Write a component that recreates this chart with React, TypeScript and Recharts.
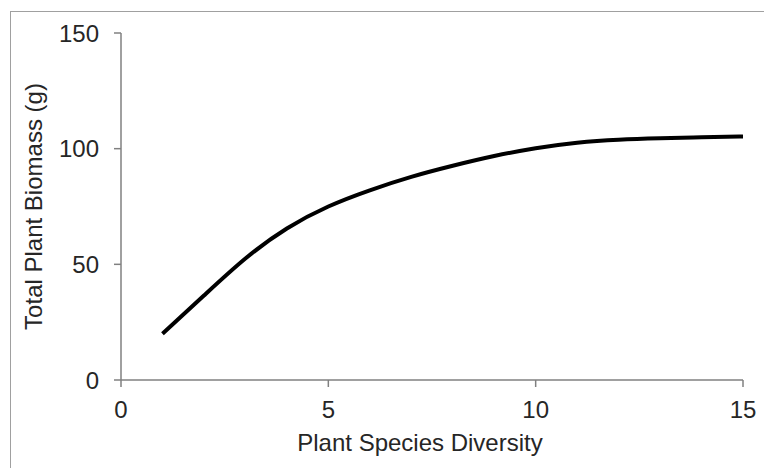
import { LineChart, Line, XAxis, YAxis, Label } from 'recharts';

const diversity = [1, 2, 3, 4, 5, 6, 7, 8, 9, 10, 11, 12, 13, 14, 15];
const biomass = [20, 36.5, 52.5, 65.5, 75, 82, 87.8, 92.6, 96.8, 100.2, 102.6, 103.9, 104.5, 104.9, 105.3];
const xTicks = [0, 5, 10, 15];
const yTicks = [0, 50, 100, 150];

const data = diversity.map((d, i) => ({ diversity: d, biomass: biomass[i] }));

const axisColor = '#808080';
const textColor = '#262626';
const font = '"Liberation Sans", Arial, sans-serif';
const txt = { fontSize: 24, fill: textColor, fontFamily: font };

export default function App() {
  return (
    <div style={{ position: 'fixed', left: 0, top: 0, width: 764, height: 468, background: '#fff', fontFamily: font }}>
      <div style={{ position: 'absolute', left: 10, top: 11, right: 0, bottom: 0, borderLeft: '1px solid #a0a0a0', borderTop: '1px solid #a0a0a0' }} />
      <LineChart width={764} height={468} data={data} margin={{ top: 33, right: 21, left: 61, bottom: 28 }} style={{ fontSize: 24 }}>
        <XAxis
          dataKey="diversity"
          type="number"
          domain={[0, 15]}
          ticks={xTicks}
          height={60}
          stroke={axisColor}
          strokeWidth={1.5}
          tickSize={7}
          tickMargin={14}
          fontSize={24}
          tick={txt}
        >
          <Label value="Plant Species Diversity" position="center" dx={-12} dy={32} style={txt} />
        </XAxis>
        <YAxis
          type="number"
          domain={[0, 150]}
          ticks={yTicks}
          width={60}
          stroke={axisColor}
          strokeWidth={1.5}
          tickSize={7}
          tickMargin={15}
          fontSize={24}
          tick={txt}
        >
          <Label value="Total Plant Biomass (g)" angle={-90} position="center" dx={-58} style={{ ...txt, textAnchor: 'middle' }} />
        </YAxis>
        <Line
          type="natural"
          dataKey="biomass"
          stroke="#000"
          strokeWidth={4}
          dot={false}
          isAnimationActive={false}
        />
      </LineChart>
    </div>
  );
}
